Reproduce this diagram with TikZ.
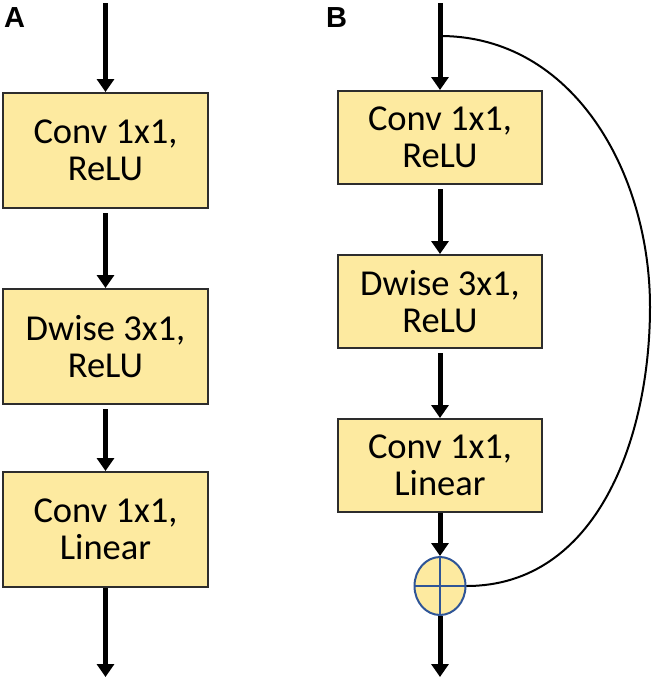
\documentclass[tikz,border=0pt]{standalone}
\usepackage{fontspec}
\setmainfont{Carlito}
\newfontfamily\panelfont{Liberation Sans}
\usetikzlibrary{arrows.meta, positioning, shapes.geometric}
\definecolor{blockfill}{RGB}{253,234,160}
\definecolor{blockline}{RGB}{45,45,45}
\definecolor{addline}{RGB}{47,85,151}

\begin{document}
\begin{tikzpicture}[x=1pt, y=-1pt,
    % Blocks of the bottleneck
    block/.style={draw=blockline, line width=2pt, fill=blockfill, align=center, inner sep=0pt, font=\fontsize{36.5}{37}\selectfont},
    blockA/.style={block, minimum width=205pt, minimum height=115pt},
    blockB/.style={block, minimum width=204pt, minimum height=93pt},
    addnode/.style={ellipse, draw=addline, line width=2pt, fill=blockfill, minimum width=51pt, minimum height=58pt, inner sep=0pt},
    % Data flow and shortcut
    flow/.style={line width=5pt, -{Triangle[length=13pt, width=17pt]}},
    skip/.style={line width=2pt},
    panel/.style={anchor=north west, inner sep=0pt, font=\panelfont\bfseries\fontsize{29}{29}\selectfont}]

\useasboundingbox (0,0) rectangle (655,681);

% A: plain bottleneck
\node[panel] (labA) at (4,7) {A};
\node[blockA] (a1) at (105.5,150.5) {Conv 1x1,\\ReLU};
\node[blockA, below=79pt of a1] (a2) {Dwise 3x1,\\ReLU};
\node[blockA, below=66pt of a2] (a3) {Conv 1x1,\\Linear};
\coordinate (aIn) at (105.5,3);
\coordinate (aOut) at (105.5,677);
\draw[flow] (aIn) -- (a1);
\draw[flow, shorten <=4pt] (a1) -- (a2);
\draw[flow, shorten <=4pt] (a2) -- (a3);
\draw[flow] (a3) -- (aOut);

% B: bottleneck with shortcut
\node[panel] (labB) at (326,7) {B};
\node[blockB] (b1) at (440,137.5) {Conv 1x1,\\ReLU};
\node[blockB, below=69pt of b1] (b2) {Dwise 3x1,\\ReLU};
\node[blockB, below=69pt of b2] (b3) {Conv 1x1,\\Linear};
\node[addnode] (add) at (440,586) {};
\draw[addline, line width=2pt] (add.north) -- (add.south) (add.west) -- (add.east);
\coordinate (bIn) at (440,3);
\coordinate (bOut) at (440,677);
\coordinate (split) at (440,36);
\coordinate (skipR) at (650,307);
\draw[flow] (bIn) -- (b1);
\draw[flow, shorten <=4pt] (b1) -- (b2);
\draw[flow, shorten <=4pt] (b2) -- (b3);
\draw[flow] (b3) -- (add);
\draw[flow] (add) -- (bOut);
\draw[skip] (split) to[out=0, in=90] (skipR) to[out=-90, in=0] (add.east);

\end{tikzpicture}
\end{document}
